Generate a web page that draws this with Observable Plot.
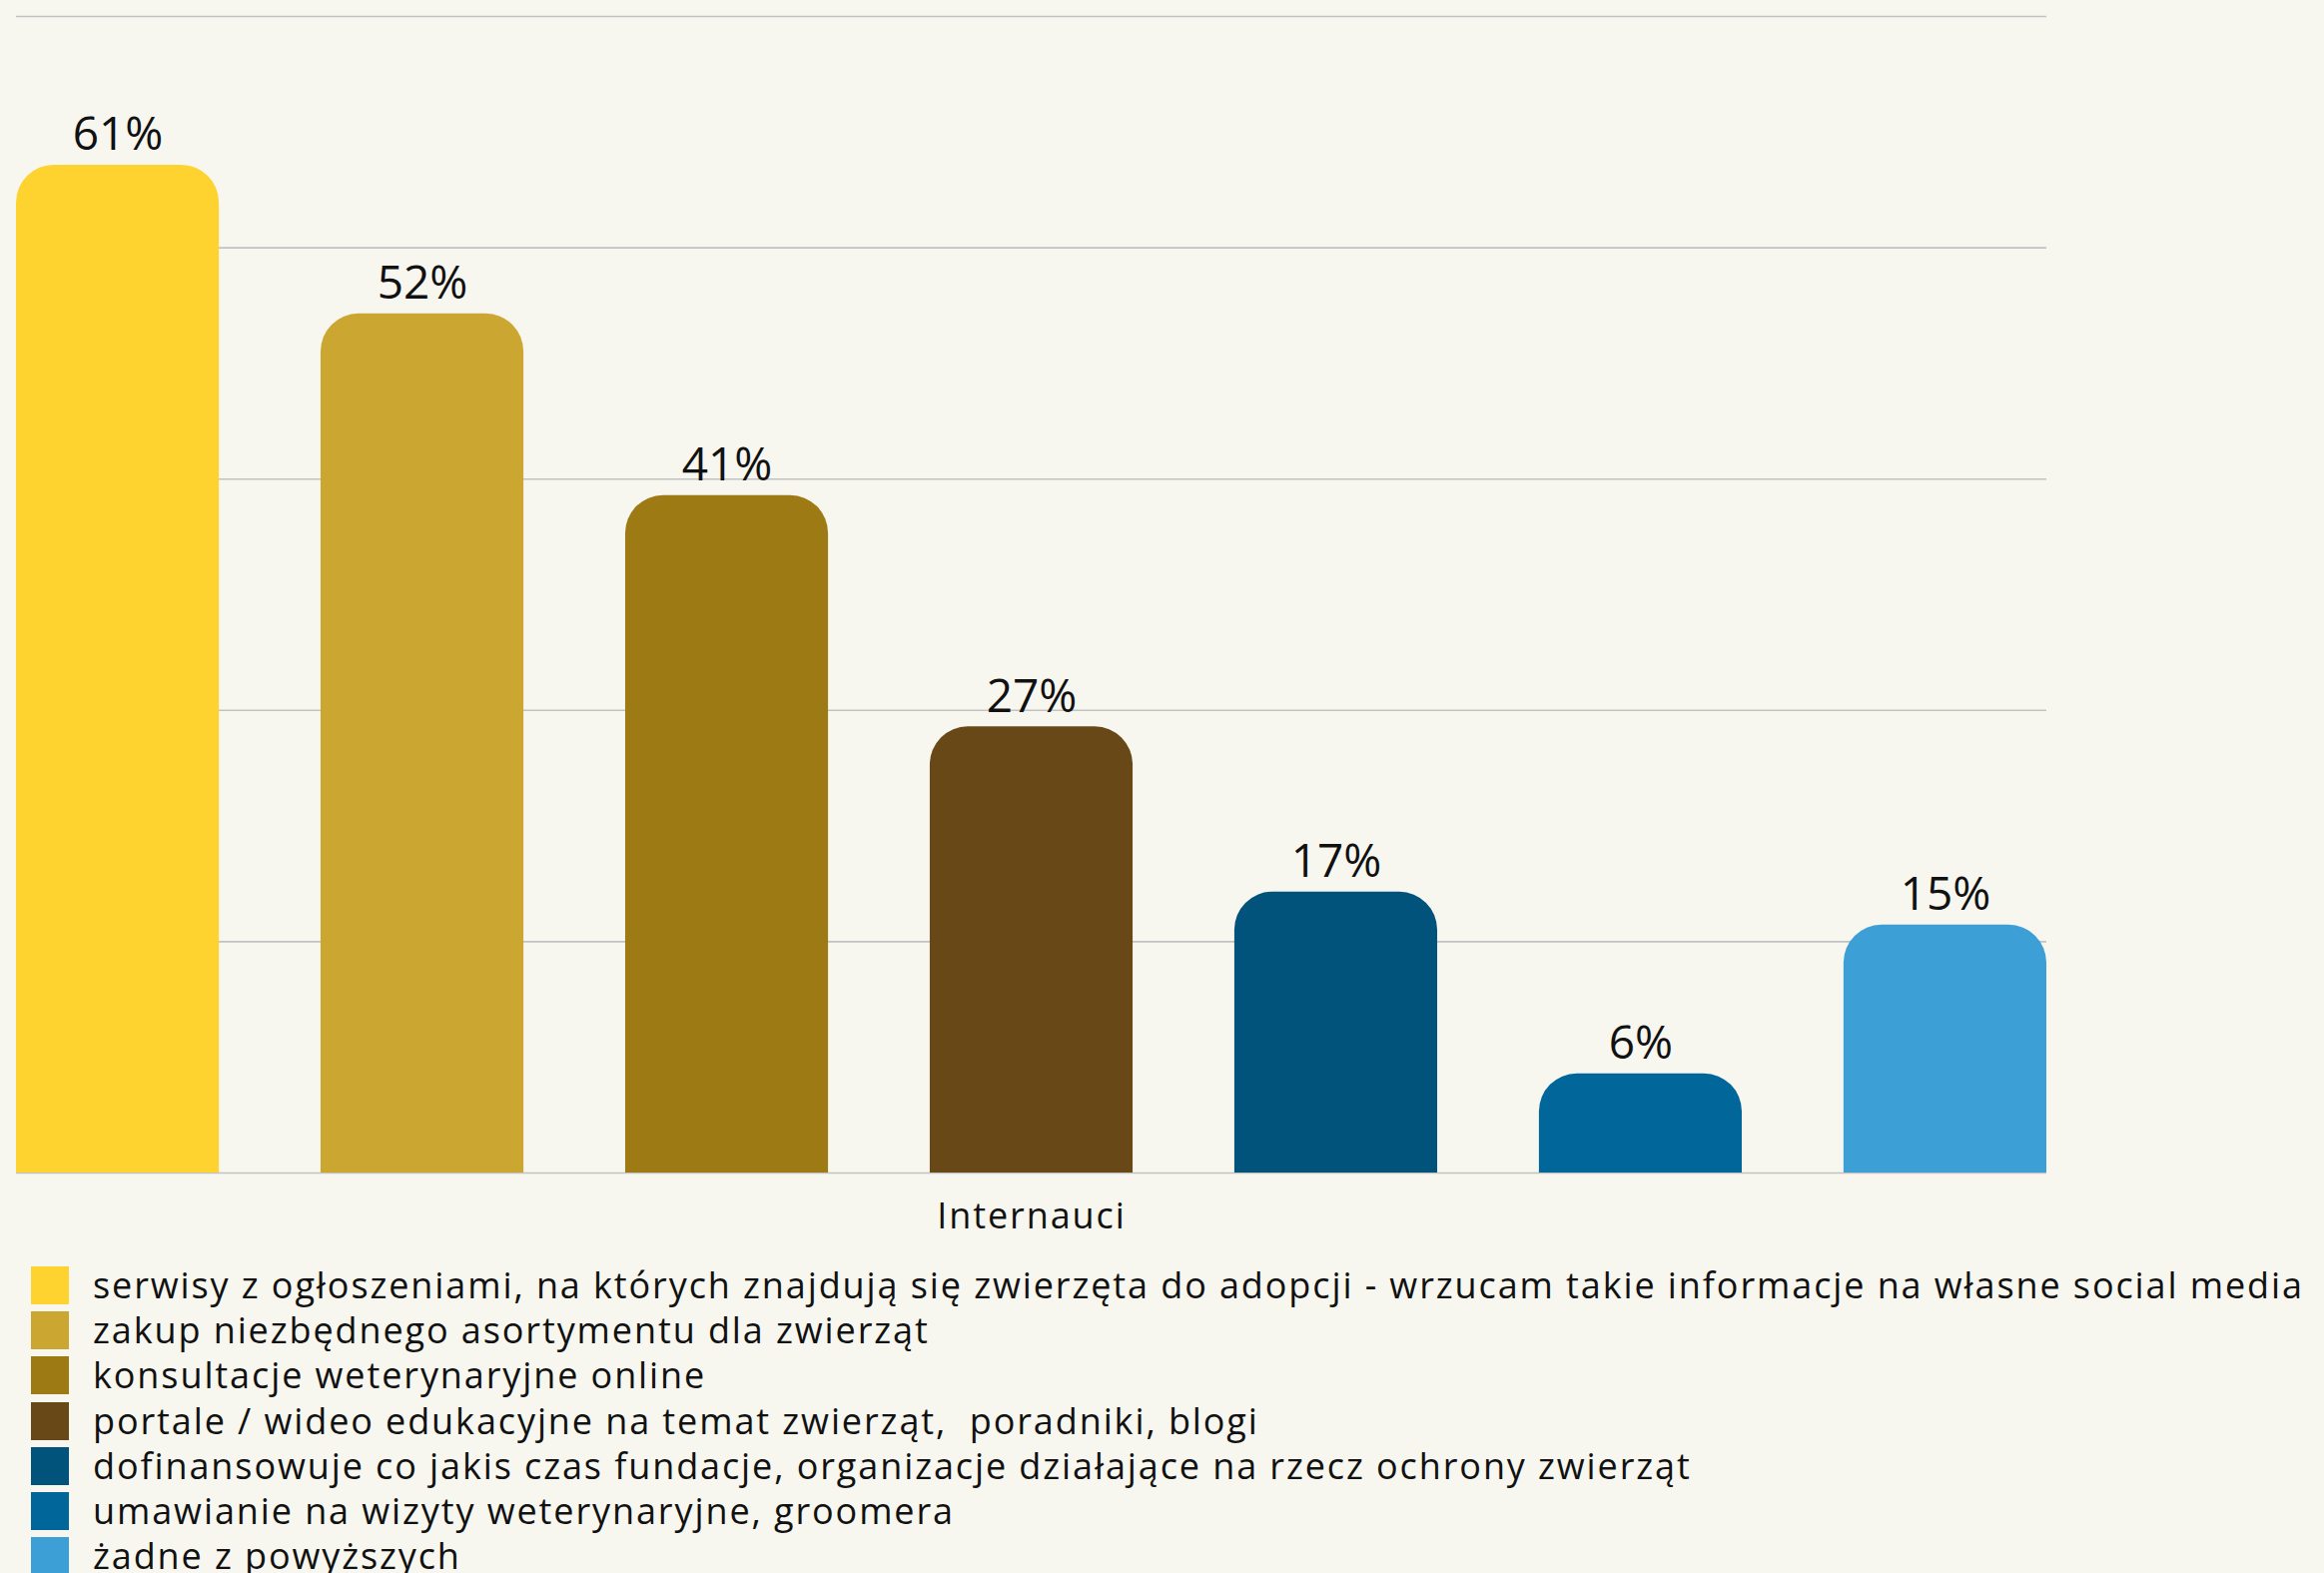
<!DOCTYPE html>
<html><head><meta charset="utf-8">
<script src="https://cdn.jsdelivr.net/npm/d3@7"></script>
<script src="https://cdn.jsdelivr.net/npm/@observablehq/plot@0.6"></script>
<style>
html,body{margin:0;padding:0;background:#f7f7f0;overflow:hidden;}
body{width:2327px;height:1575px;font-family:"Open Sans",sans-serif;color:#111;}
#chart svg{display:block;}
#chart .fxlab text{letter-spacing:1.9px;}
#legend{margin-top:24px;padding-left:31px;}
.row{display:flex;align-items:center;height:45.3px;}
.sw{width:38px;height:38px;flex:none;margin-right:24px;}
.lbl{font-size:36px;line-height:1;white-space:pre;letter-spacing:1.9px;}
</style></head><body>
<div id="chart"></div><div id="legend"></div>
<script>
const group = "Internauci";
const categories = [
  "serwisy z ogłoszeniami, na których znajdują się zwierzęta do adopcji - wrzucam takie informacje na własne social media",
  "zakup niezbędnego asortymentu dla zwierząt",
  "konsultacje weterynaryjne online",
  "portale / wideo edukacyjne na temat zwierząt,  poradniki, blogi",
  "dofinansowuje co jakis czas fundacje, organizacje działające na rzecz ochrony zwierząt",
  "umawianie na wizyty weterynaryjne, groomera",
  "żadne z powyższych"
];
const values = [61, 52, 41, 27, 17, 6, 15];
const colors = ["#fed22f", "#cba731", "#9d7a13", "#684816", "#02537b", "#016699", "#3c9fd6"];
const gridTicks = [0, 14, 28, 42, 56, 70];

const data = categories.map((c, i) => ({group, category: c, value: values[i]}));

const chart = Plot.plot({
  width: 2327, height: 1240,
  marginLeft: 16, marginRight: 278, marginTop: 16, marginBottom: 66,
  style: {background: "transparent", fontFamily: "'Open Sans', sans-serif", color: "#111"},
  fx: {domain: [group], padding: 0, label: null, round: false},
  x: {domain: categories, paddingInner: 0.334, paddingOuter: 0, round: false, axis: null},
  y: {domain: [0, 70], axis: null},
  color: {domain: categories, range: colors},
  marks: [
    Plot.ruleY(gridTicks, {stroke: "#c2c2c2", strokeWidth: 1.6}),
    Plot.barY(data, {fx: "group", x: "category", y: "value", fill: "category", rx1y1: 38, rx2y1: 38}),
    Plot.text(data, {fx: "group", x: "category", y: "value", text: d => d.value + "%", lineAnchor: "bottom", dy: -15, fontSize: 46, fill: "#111"}),
    Plot.axisFx({anchor: "bottom", tickSize: 0, tickPadding: 30, fontSize: 36, label: null, className: "fxlab"})
  ]
});
document.getElementById("chart").appendChild(chart);

const legend = document.getElementById("legend");
categories.forEach((c, i) => {
  const row = document.createElement("div");
  row.className = "row";
  const sw = document.createElement("div");
  sw.className = "sw";
  sw.style.background = colors[i];
  const lbl = document.createElement("span");
  lbl.className = "lbl";
  lbl.textContent = c;
  row.appendChild(sw); row.appendChild(lbl);
  legend.appendChild(row);
});
</script>
</body></html>
